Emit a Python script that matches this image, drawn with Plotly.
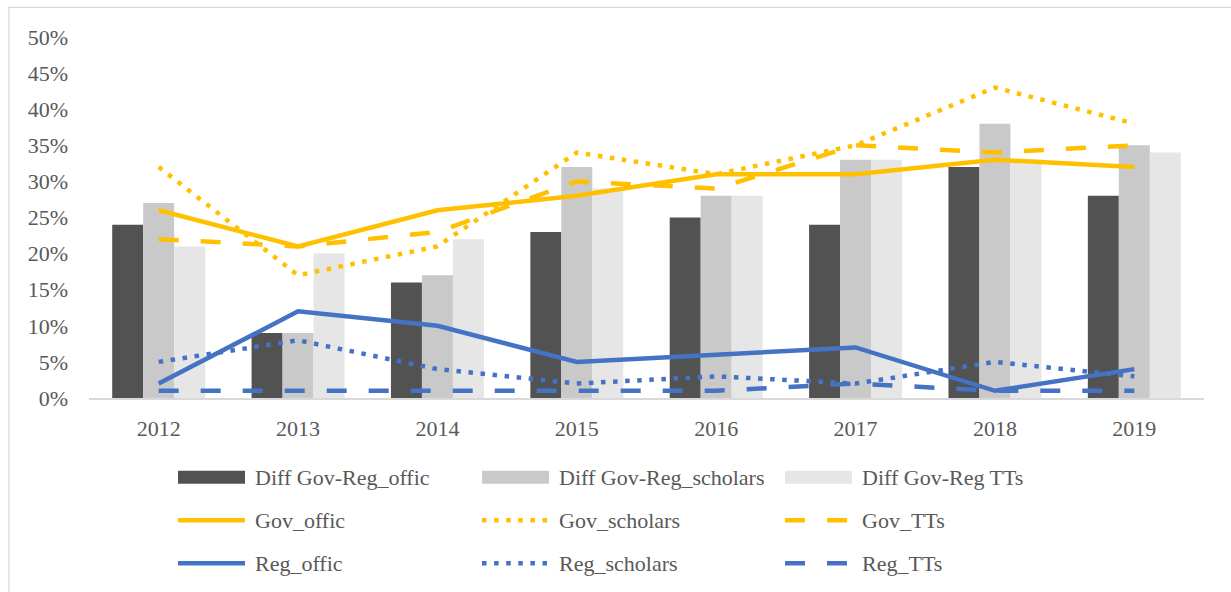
import plotly.graph_objects as go

years = ["2012", "2013", "2014", "2015", "2016", "2017", "2018", "2019"]

diff_offic = [24, 9, 16, 23, 25, 24, 32, 28]
diff_scholars = [27, 9, 17, 32, 28, 33, 38, 35]
diff_tts = [21, 20, 22, 29, 28, 33, 33, 34]

gov_offic = [26, 21, 26, 28, 31, 31, 33, 32]
gov_scholars = [32, 17, 21, 34, 31, 35, 43, 38]
gov_tts = [22, 21, 23, 30, 29, 35, 34, 35]

reg_offic = [2, 12, 10, 5, 6, 7, 1, 4]
reg_scholars = [5, 8, 4, 2, 3, 2, 5, 3]
reg_tts = [1, 1, 1, 1, 1, 2, 1, 1]

DARK, MID, LIGHT = "#525252", "#C9C9C9", "#E6E6E6"
GOLD, BLUE = "#FFC000", "#4472C4"
TXT = "#595959"
FONT = "Liberation Serif"
LW = 4.5
DOT = "4.5px,7.6px"
LDASH = "20px,22px"

bar_series = [
    ("Diff Gov-Reg_offic", diff_offic, DARK),
    ("Diff Gov-Reg_scholars", diff_scholars, MID),
    ("Diff Gov-Reg TTs", diff_tts, LIGHT),
]
line_series = [
    ("Gov_offic", gov_offic, GOLD, "solid"),
    ("Gov_scholars", gov_scholars, GOLD, DOT),
    ("Gov_TTs", gov_tts, GOLD, LDASH),
    ("Reg_offic", reg_offic, BLUE, "solid"),
    ("Reg_scholars", reg_scholars, BLUE, DOT),
    ("Reg_TTs", reg_tts, BLUE, LDASH),
]

fig = go.Figure()
for name, vals, col in bar_series:
    fig.add_trace(go.Bar(x=years, y=vals, name=name, marker=dict(color=col, line=dict(width=0)),
                         showlegend=False))
for name, vals, col, dash in line_series:
    fig.add_trace(go.Scatter(x=years, y=vals, name=name, mode="lines",
                             line=dict(color=col, width=LW, dash=dash), showlegend=False))

# layout geometry (pixels)
W, H = 1231, 592
L, R, T, B = 89, 27, 36.7, 194.3
PW, PH = W - L - R, H - T - B

def px(xp):
    return (xp - L) / PW

def py(yp):
    return (H - B - yp) / PH

shapes = []
annotations = []
# outer chart border
shapes.append(dict(type="rect", xref="paper", yref="paper",
                   x0=px(9), x1=px(1240), y0=py(600), y1=py(7),
                   line=dict(color="#D9D9D9", width=1.3), fillcolor="rgba(0,0,0,0)", layer="below"))

# manual legend (3 columns x 3 rows)
col_sym = [178, 482, 785]
sym_w = 67
row_y = [477, 520, 563]
items = [(n, ("bar", c, None)) for n, _, c in bar_series] + \
        [(n, ("line", c, d)) for n, _, c, d in line_series]
for i, (name, (kind, col, dash)) in enumerate(items):
    r, c = divmod(i, 3)
    x0 = col_sym[c]
    yc = row_y[r]
    if kind == "bar":
        shapes.append(dict(type="rect", xref="paper", yref="paper",
                           x0=px(x0), x1=px(x0 + sym_w), y0=py(yc + 6.5), y1=py(yc - 6.5),
                           fillcolor=col, line=dict(width=0)))
    else:
        shapes.append(dict(type="line", xref="paper", yref="paper",
                           x0=px(x0), x1=px(x0 + sym_w), y0=py(yc), y1=py(yc),
                           line=dict(color=col, width=LW, dash=dash)))
    annotations.append(dict(text=name, xref="paper", yref="paper", x=px(x0 + sym_w + 8), y=py(yc),
                            xanchor="left", yanchor="middle", showarrow=False,
                            font=dict(family=FONT, size=22, color=TXT)))

fig.update_layout(
    width=W, height=H,
    margin=dict(l=L, r=R, t=T, b=B, autoexpand=False),
    paper_bgcolor="white", plot_bgcolor="white",
    barmode="group", bargap=0.333, bargroupgap=0,
    font=dict(family=FONT, size=22, color=TXT),
    showlegend=False,
    shapes=shapes, annotations=annotations,
    xaxis=dict(type="category", showgrid=False, zeroline=False, showline=True,
               linecolor="#D9D9D9", linewidth=1.5, ticks="", ticklabelstandoff=10,
               tickfont=dict(family=FONT, size=22, color=TXT), fixedrange=True),
    yaxis=dict(range=[0, 50], dtick=5, tick0=0, ticksuffix="%", showgrid=False, zeroline=False,
               showline=False, ticks="", ticklabelstandoff=20,
               tickfont=dict(family=FONT, size=22, color=TXT), fixedrange=True),
)

fig.write_html("out.html", config={"displayModeBar": False})
